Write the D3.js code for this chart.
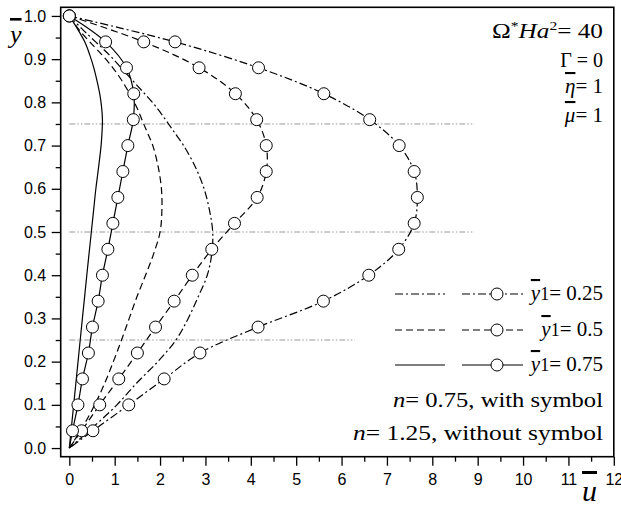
<!DOCTYPE html>
<html>
<head>
<meta charset="utf-8">
<script src="https://cdn.jsdelivr.net/npm/d3@7"></script>
<style>
body { margin: 0; background: #fff; }
svg { display: block; }
.tick text { font-family: "Liberation Sans", Arial, sans-serif; font-size: 16px; fill: #000; }
.serif { font-family: "Liberation Serif", "Times New Roman", serif; fill: #000; }
</style>
</head>
<body>
<svg id="chart" width="621" height="508"></svg>
<script>
// heights of the symbols, n = 0.75 (last point closes the curve at the wall)
const ySym = [1.0, 0.94, 0.88, 0.82, 0.76, 0.70, 0.64, 0.58, 0.52, 0.46,
              0.40, 0.34, 0.28, 0.22, 0.16, 0.10, 0.04, 0.0];
const uSym025 = [0, 2.33, 4.17, 5.61, 6.62, 7.27, 7.60, 7.67, 7.60, 7.26,
                 6.60, 5.60, 4.16, 2.88, 2.09, 1.31, 0.52, 0];
const uSym050 = [0, 1.64, 2.86, 3.66, 4.13, 4.34, 4.34, 4.14, 3.64, 3.14,
                 2.71, 2.31, 1.90, 1.50, 1.09, 0.67, 0.27, 0];
const uSym075 = [0, 0.80, 1.26, 1.42, 1.41, 1.29, 1.18, 1.07, 0.96, 0.85,
                 0.73, 0.635, 0.51, 0.42, 0.29, 0.19, 0.07, 0];

// n = 1.25 curves, no symbols
const yFine = [1.0, 0.97, 0.94, 0.91, 0.88, 0.85, 0.82, 0.79, 0.76, 0.73, 0.70,
               0.65, 0.60, 0.55, 0.50, 0.45, 0.40, 0.35, 0.30, 0.25, 0.20,
               0.15, 0.10, 0.05, 0.0];
const uLine025 = [0, 0.28, 0.58, 0.88, 1.14, 1.40, 1.66, 1.91, 2.12, 2.32, 2.52,
                  2.78, 2.97, 3.09, 3.16, 3.14, 3.04, 2.84, 2.62, 2.35, 1.95,
                  1.48, 1.05, 0.54, 0];
const uLine050 = [0, 0.20, 0.45, 0.72, 0.96, 1.16, 1.33, 1.48, 1.60, 1.72, 1.84,
                  1.96, 2.03, 2.04, 2.00, 1.86, 1.68, 1.49, 1.32, 1.15, 0.97,
                  0.78, 0.56, 0.30, 0];
const uLine075 = [0, 0.18, 0.34, 0.45, 0.54, 0.61, 0.67, 0.71, 0.73, 0.72, 0.70,
                  0.645, 0.585, 0.535, 0.485, 0.435, 0.385, 0.337, 0.288, 0.24, 0.192,
                  0.144, 0.096, 0.048, 0];

// interface heights and how far their guide lines run
const refY = [0.25, 0.5, 0.75];
const refEnd = [6.29, 8.93, 8.93];

const xTickValues = [0, 1, 2, 3, 4, 5, 6, 7, 8, 9, 10, 11, 12];
const xMinorValues = [0.5, 1.5, 2.5, 3.5, 4.5, 5.5, 6.5, 7.5, 8.5, 9.5, 10.5, 11.5];
const yTickValues = [0, 0.1, 0.2, 0.3, 0.4, 0.5, 0.6, 0.7, 0.8, 0.9, 1.0];
const yMinorValues = [0.05, 0.15, 0.25, 0.35, 0.45, 0.55, 0.65, 0.75, 0.85, 0.95];

const legendNames = ["0.25", "0.5", "0.75"];

const svg = d3.select("#chart");
const pLeft = 60.7, pRight = 613.8, pTop = 7.3, pBottom = 456.7;

const x = d3.scaleLinear().domain([-0.19, 12]).range([pLeft, pRight]);
const y = d3.scaleLinear().domain([-0.02, 1.02]).range([pBottom, pTop]);

const dashes = ["8,3,2,3", "7,4", null];

// axes
function styleAxis(g) {
    g.select(".domain").remove();
    g.selectAll(".tick line").attr("stroke", "#000").attr("stroke-width", 1.3);
}
svg.append("g").attr("transform", `translate(0,${pBottom})`)
    .call(d3.axisBottom(x).tickValues(xTickValues).tickSize(9).tickPadding(8).tickFormat(d3.format("d")))
    .call(styleAxis);
svg.append("g").attr("transform", `translate(0,${pBottom})`)
    .call(d3.axisBottom(x).tickValues(xMinorValues).tickSize(5).tickFormat(""))
    .call(styleAxis);
svg.append("g").attr("transform", `translate(${pLeft},0)`)
    .call(d3.axisLeft(y).tickValues(yTickValues).tickSize(9).tickPadding(5.5).tickFormat(d3.format(".1f")))
    .call(styleAxis);
svg.append("g").attr("transform", `translate(${pLeft},0)`)
    .call(d3.axisLeft(y).tickValues(yMinorValues).tickSize(5).tickFormat(""))
    .call(styleAxis);

// guide lines at the interfaces
svg.append("g").selectAll("line")
    .data(refY)
    .enter().append("line")
    .attr("x1", x(0))
    .attr("x2", (d, i) => x(refEnd[i]))
    .attr("y1", d => y(d))
    .attr("y2", d => y(d))
    .attr("stroke", "#999")
    .attr("stroke-width", 1)
    .attr("stroke-dasharray", "6,2,1.5,2,1.5,2");

const line = d3.line()
    .x(d => x(d[0]))
    .y(d => y(d[1]))
    .curve(d3.curveCatmullRom.alpha(0.5));

const plain = [uLine025, uLine050, uLine075];
const symbol = [uSym025, uSym050, uSym075];

plain.forEach(function (us, k) {
    svg.append("path")
        .datum(us.map((u, i) => [u, yFine[i]]))
        .attr("d", line)
        .attr("fill", "none")
        .attr("stroke", "#000")
        .attr("stroke-width", 1.2)
        .attr("stroke-dasharray", dashes[k]);
});

symbol.forEach(function (us, k) {
    let pts = us.map((u, i) => [u, ySym[i]]);
    svg.append("path")
        .datum(pts)
        .attr("d", line)
        .attr("fill", "none")
        .attr("stroke", "#000")
        .attr("stroke-width", 1.2)
        .attr("stroke-dasharray", dashes[k]);
    svg.append("g").selectAll("circle")
        .data(pts.filter(p => p[1] > 0))
        .enter().append("circle")
        .attr("cx", d => x(d[0]))
        .attr("cy", d => y(d[1]))
        .attr("r", 6)
        .attr("fill", "#fff")
        .attr("stroke", "#000")
        .attr("stroke-width", 1);
});

// frame
svg.append("rect")
    .attr("x", pLeft).attr("y", pTop)
    .attr("width", pRight - pLeft).attr("height", pBottom - pTop)
    .attr("fill", "none").attr("stroke", "#000").attr("stroke-width", 1.6);

// axis titles
let yt = svg.append("text").attr("class", "serif")
    .attr("x", 10).attr("y", 43).style("font-size", "26px");
yt.append("tspan").style("font-style", "italic").style("text-decoration", "overline").text("y");

let ut = svg.append("text").attr("class", "serif")
    .attr("x", 582).attr("y", 501).style("font-size", "30px");
ut.append("tspan").style("font-style", "italic").style("text-decoration", "overline").text("u");

// parameter block
const tx = 603;
let t1 = svg.append("text").attr("class", "serif").attr("x", tx).attr("y", 38)
    .attr("text-anchor", "end").style("font-size", "21px")
    .attr("textLength", 111).attr("lengthAdjust", "spacingAndGlyphs");
t1.append("tspan").text("Ω");
t1.append("tspan").attr("dy", -8).style("font-size", "13px").text("*");
t1.append("tspan").attr("dy", 8).style("font-style", "italic").text("Ha");
t1.append("tspan").attr("dy", -8).style("font-size", "13px").text("2");
t1.append("tspan").attr("dy", 8).text("= 40");

svg.append("text").attr("class", "serif").attr("x", tx).attr("y", 67)
    .attr("text-anchor", "end").style("font-size", "20px").text("Γ = 0");

let t3 = svg.append("text").attr("class", "serif").attr("x", tx).attr("y", 93)
    .attr("text-anchor", "end").style("font-size", "21px");
t3.append("tspan").style("font-style", "italic").style("text-decoration", "overline").text("η");
t3.append("tspan").text("= 1");

let t4 = svg.append("text").attr("class", "serif").attr("x", tx).attr("y", 122)
    .attr("text-anchor", "end").style("font-size", "21px");
t4.append("tspan").style("font-style", "italic").style("text-decoration", "overline").text("μ");
t4.append("tspan").text("= 1");

// legend
const rowY = [294, 330, 365];
const leg = svg.append("g");
legendNames.forEach(function (name, k) {
    let ly = rowY[k];
    leg.append("line").attr("x1", 395).attr("x2", 445).attr("y1", ly).attr("y2", ly)
        .attr("stroke", "#000").attr("stroke-width", 1.2).attr("stroke-dasharray", dashes[k]);
    leg.append("line").attr("x1", 462).attr("x2", 523).attr("y1", ly).attr("y2", ly)
        .attr("stroke", "#000").attr("stroke-width", 1.2).attr("stroke-dasharray", dashes[k]);
    leg.append("circle").attr("cx", 497).attr("cy", ly).attr("r", 6)
        .attr("fill", "#fff").attr("stroke", "#000");
    let t = leg.append("text").attr("class", "serif").attr("x", tx).attr("y", ly + 6)
        .attr("text-anchor", "end").style("font-size", "21px");
    t.append("tspan").style("font-style", "italic").style("text-decoration", "overline").text("y");
    t.append("tspan").style("font-size", "18px").text("1");
    t.append("tspan").text("= " + name);
});

let n1 = svg.append("text").attr("class", "serif").attr("x", tx).attr("y", 407)
    .attr("text-anchor", "end").style("font-size", "21px")
    .attr("textLength", 210).attr("lengthAdjust", "spacingAndGlyphs");
n1.append("tspan").style("font-style", "italic").text("n");
n1.append("tspan").text("= 0.75, with symbol");

let n2 = svg.append("text").attr("class", "serif").attr("x", tx).attr("y", 440)
    .attr("text-anchor", "end").style("font-size", "21px")
    .attr("textLength", 250).attr("lengthAdjust", "spacingAndGlyphs");
n2.append("tspan").style("font-style", "italic").text("n");
n2.append("tspan").text("= 1.25, without symbol");
</script>
</body>
</html>
